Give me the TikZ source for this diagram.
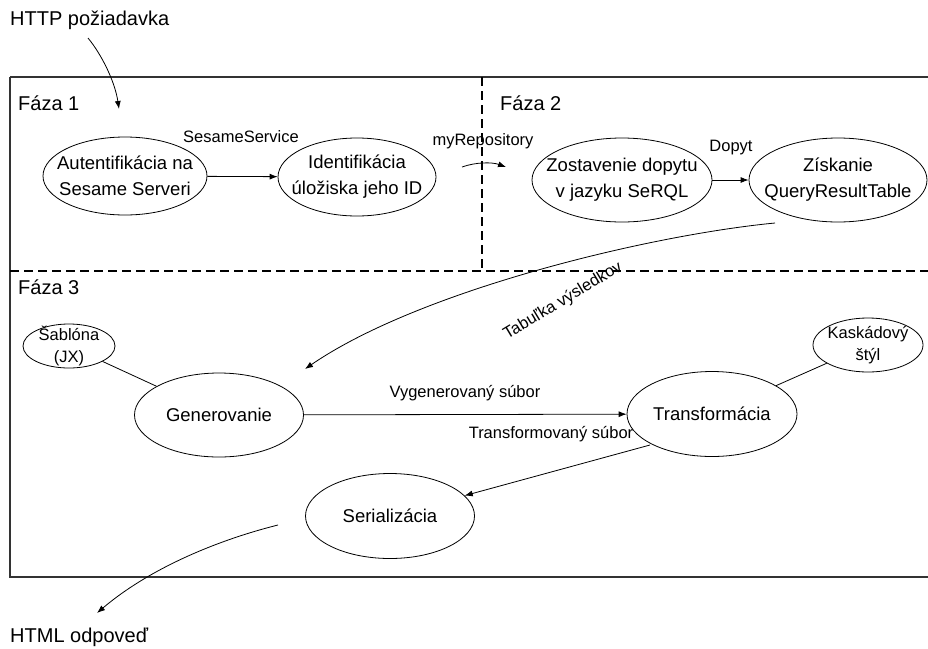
\documentclass[tikz,border=0pt]{standalone}
\usepackage{fontspec}
\setmainfont{Liberation Sans}
\usetikzlibrary{shapes.geometric,arrows.meta}
\tikzset{
  proc/.style 2 args={ellipse,draw,line width=0.8pt,inner sep=0pt,
    label={[align=center,inner sep=0pt,font=\fontsize{18.5}{26}\selectfont]center:#2}},
  procs/.style 2 args={ellipse,draw,line width=0.8pt,inner sep=0pt,
    label={[align=center,inner sep=0pt,font=\fontsize{16.5}{22}\selectfont]center:#2}},
  lbl/.style={font=\fontsize{16.5}{20}\selectfont,inner sep=0pt},
  outer/.style={font=\fontsize{20}{24}\selectfont,inner sep=0pt},
  arr/.style={line width=0.8pt,-{Latex[length=8pt,width=6pt]}},
  plain/.style={line width=0.8pt},
  divider/.style={line width=2pt,dash pattern=on 9pt off 5pt},
}
\begin{document}
\begin{tikzpicture}[x=1pt,y=-1pt]
\useasboundingbox (0,0) rectangle (928,648);
\fill[white] (0,0) rectangle (928,648);
\begin{scope}
\clip (0,0) rectangle (928,648);
\draw[line width=1.4pt,draw=black!80] (10,77) -- (940,77) (10,77) -- (10,577) -- (940,577);
\draw[divider] (482,77) -- (482,271);
\draw[divider] (10,271) -- (940,271);

\node[outer,anchor=west] (f1) at (18,103) {Fáza 1};
\node[outer,anchor=west] (f2) at (500,103) {Fáza 2};
\node[outer,anchor=west] (f3) at (18,287) {Fáza 3};

\node[proc={}{Autentifikácia na\\Sesame Serveri},minimum width=164pt,minimum height=78pt] (aut) at (125,176) {};
\node[proc={}{Identifikácia\\úložiska jeho ID},minimum width=158pt,minimum height=78pt] (idf) at (357,177) {};
\node[proc={}{Zostavenie dopytu\\v jazyku SeRQL},minimum width=180pt,minimum height=84pt] (zos) at (622,180) {};
\node[proc={}{Získanie\\QueryResultTable},minimum width=178pt,minimum height=84pt] (zis) at (838,180) {};
\node[procs={}{Šablóna\\(JX)},minimum width=92pt,minimum height=44pt] (sab) at (69,346) {};
\node[proc={}{Generovanie},minimum width=169pt,minimum height=84pt] (gen) at (219,415) {};
\node[proc={}{Transformácia},minimum width=170pt,minimum height=85pt] (tra) at (712,414) {};
\node[procs={}{Kaskádový\\štýl},minimum width=110pt,minimum height=54pt] (kas) at (868,345) {};
\node[proc={}{Serializácia},minimum width=169pt,minimum height=85pt] (ser) at (390,516) {};

\node[outer,anchor=west] (http) at (10,20) {HTTP požiadavka};
\node[outer,anchor=west] (html) at (10,637) {HTML odpoveď};

\coordinate (h1) at (88,38);
\coordinate (h2) at (119,109);
\draw[arr] (h1) .. controls (102,55) and (115,82) .. (h2);

\draw[arr] (aut) -- (idf);
\node[lbl] (l1) at (241,137) {SesameService};

\coordinate (m1) at (462,167);
\coordinate (m2) at (506,167);
\draw[arr] (m1) .. controls (476,162) and (492,162) .. (m2);
\node[lbl] (l2) at (483,141) {myRepository};

\draw[arr] (zos) -- (zis);
\node[lbl] (l3) at (731,148) {Dopyt};

\coordinate (t1) at (775,223);
\coordinate (t2) at (305,369);
\draw[arr] (t1) .. controls (650,235) and (420,290) .. (t2);
\node[lbl,rotate=31] (l4) at (563,301) {Tabuľka výsledkov};

\draw[plain] (sab) -- (gen);
\draw[arr] (gen) -- (tra);
\node[lbl] (l5) at (465,393) {Vygenerovaný súbor};
\draw[plain] (kas) -- (tra);
\coordinate (s1) at (650,445);
\draw[arr] (s1) -- (ser);
\node[lbl] (l6) at (551,434) {Transformovaný súbor};

\coordinate (o1) at (278,525);
\coordinate (o2) at (97,613);
\draw[arr] (o1) .. controls (218,540) and (150,568) .. (o2);
\end{scope}
\end{tikzpicture}
\end{document}
